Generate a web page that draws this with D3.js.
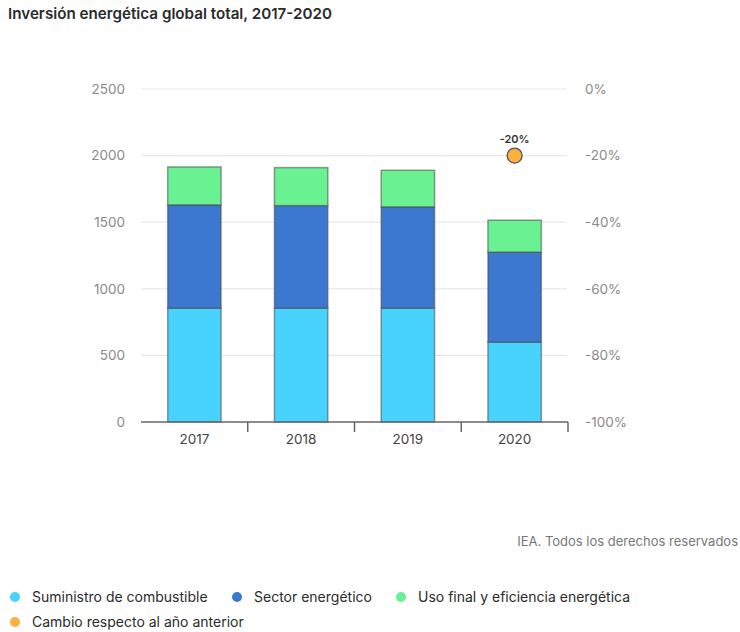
<!DOCTYPE html>
<html>
<head>
<meta charset="utf-8">
<script src="https://cdn.jsdelivr.net/npm/d3@7"></script>
<style>
  html, body { margin: 0; padding: 0; background: #fff; }
  svg { display: block; font-family: Inter, "Open Sans", sans-serif; }
</style>
</head>
<body>
<svg id="chart" width="740" height="632"></svg>
<script>
// Global energy investment by segment (USD billion)
const years = ["2017", "2018", "2019", "2020"];
const fuelSupply = [855, 855, 855, 600];
const powerSector = [775, 770, 760, 675];
const endUse = [285, 285, 275, 240];
// Change versus previous year (%)
const changeYears = ["2020"];
const changeValues = [-20];
const leftTicks = [0, 500, 1000, 1500, 2000, 2500];
const rightTicks = [0, -20, -40, -60, -80, -100];

const seriesNames = ["Suministro de combustible", "Sector energético", "Uso final y eficiencia energética"];
const seriesColors = ["#47D3FE", "#3C77D0", "#69F192"];
const changeName = "Cambio respecto al año anterior";
const changeColor = "#FBB040";

const svg = d3.select("#chart");
const plot = { left: 141, right: 568, top: 89, bottom: 422 };

const x = d3.scaleBand().domain(years).range([plot.left, plot.right]).paddingInner(0.5).paddingOuter(0.25);
const y = d3.scaleLinear().domain([0, 2500]).range([plot.bottom, plot.top]);
const y2 = d3.scaleLinear().domain([-100, 0]).range([plot.bottom, plot.top]);

// Title
svg.append("text")
  .attr("x", 8).attr("y", 19)
  .attr("font-size", 15.2).attr("font-weight", 600).attr("fill", "#2b2b2b")
  .text("Inversión energética global total, 2017-2020");

// Gridlines
svg.append("g").selectAll("line").data(leftTicks.filter(d => d > 0)).join("line")
  .attr("x1", plot.left).attr("x2", plot.right - 1)
  .attr("y1", d => y(d)).attr("y2", d => y(d))
  .attr("stroke", "#e8e8e8").attr("stroke-width", 1.2);

// Left axis
const leftAxis = svg.append("g").attr("transform", `translate(${plot.left},0)`)
  .call(d3.axisLeft(y).tickValues(leftTicks).tickFormat(d3.format("d")).tickSize(0).tickPadding(16));
leftAxis.select(".domain").remove();
leftAxis.selectAll("text").attr("font-size", 13.5).attr("fill", "#8a8a8a").attr("font-family", "Inter, sans-serif");

// Right axis
const rightAxis = svg.append("g").attr("transform", `translate(${plot.right},0)`)
  .call(d3.axisRight(y2).tickValues(rightTicks).tickFormat(d => d + "%").tickSize(0).tickPadding(17));
rightAxis.select(".domain").remove();
rightAxis.selectAll("text").attr("font-size", 13.5).attr("fill", "#8a8a8a").attr("font-family", "Inter, sans-serif");

// Stacked bars
const rows = years.map((yr, i) => ({ year: yr, s0: fuelSupply[i], s1: powerSector[i], s2: endUse[i] }));
const stack = d3.stack().keys(["s0", "s1", "s2"])(rows);
svg.append("g").selectAll("g").data(stack).join("g")
  .attr("fill", (d, i) => seriesColors[i])
  .selectAll("rect").data(d => d).join("rect")
  .attr("x", d => x(d.data.year))
  .attr("width", x.bandwidth())
  .attr("y", d => y(d[1]))
  .attr("height", d => y(d[0]) - y(d[1]))
  .attr("stroke", "#4a4a4a").attr("stroke-opacity", 0.55).attr("stroke-width", 1.5);

// Bottom axis with ticks at category boundaries
const xAxisG = svg.append("g");
xAxisG.append("line")
  .attr("x1", plot.left).attr("x2", plot.right)
  .attr("y1", plot.bottom).attr("y2", plot.bottom)
  .attr("stroke", "#666").attr("stroke-width", 1.5);
xAxisG.selectAll("line.tick").data(years).join("line")
  .attr("class", "tick")
  .attr("x1", (d, i) => plot.left + (i + 1) * (plot.right - plot.left) / years.length)
  .attr("x2", (d, i) => plot.left + (i + 1) * (plot.right - plot.left) / years.length)
  .attr("y1", plot.bottom).attr("y2", plot.bottom + 10)
  .attr("stroke", "#666").attr("stroke-width", 1.5);
xAxisG.selectAll("text").data(years).join("text")
  .attr("x", d => x(d) + x.bandwidth() / 2)
  .attr("y", plot.bottom + 22)
  .attr("text-anchor", "middle")
  .attr("font-size", 13.5).attr("fill", "#444")
  .text(d => d);

// Year-on-year change markers
const changes = changeYears.map((yr, i) => ({ year: yr, value: changeValues[i] }));
svg.append("g").selectAll("circle").data(changes).join("circle")
  .attr("cx", d => x(d.year) + x.bandwidth() / 2)
  .attr("cy", d => y2(d.value))
  .attr("r", 7.5)
  .attr("fill", changeColor).attr("stroke", "#555").attr("stroke-width", 1.3);
svg.append("g").selectAll("text").data(changes).join("text")
  .attr("x", d => x(d.year) + x.bandwidth() / 2)
  .attr("y", d => y2(d.value) - 13)
  .attr("text-anchor", "middle")
  .attr("font-size", 11).attr("font-weight", 600).attr("fill", "#333")
  .text(d => d.value + "%");

// Source note
svg.append("text")
  .attr("x", 738).attr("y", 546)
  .attr("text-anchor", "end")
  .attr("font-size", 13).attr("fill", "#777")
  .text("IEA. Todos los derechos reservados");

// Legend
const legendItems = [
  { name: seriesNames[0], color: seriesColors[0], x: 15, y: 597 },
  { name: seriesNames[1], color: seriesColors[1], x: 237, y: 597 },
  { name: seriesNames[2], color: seriesColors[2], x: 401, y: 597 },
  { name: changeName, color: changeColor, x: 15, y: 622 }
];
const lg = svg.append("g").selectAll("g").data(legendItems).join("g")
  .attr("transform", d => `translate(${d.x},${d.y})`);
lg.append("circle").attr("r", 5).attr("fill", d => d.color);
lg.append("text").attr("x", 17).attr("y", 4.5)
  .attr("font-size", 14).attr("fill", "#2b2b2b")
  .text(d => d.name);
</script>
</body>
</html>
